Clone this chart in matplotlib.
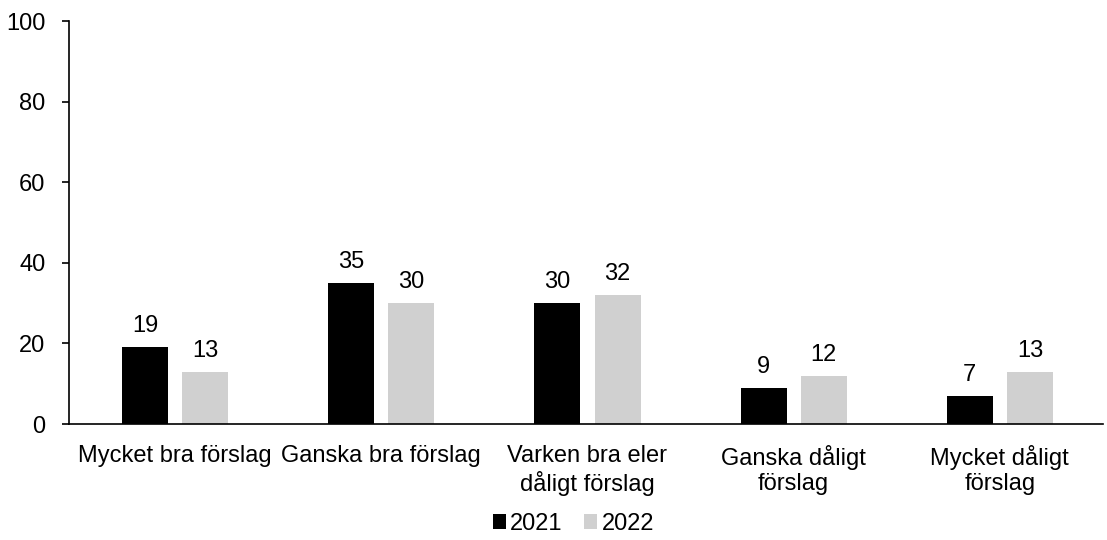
import matplotlib
matplotlib.use('Agg')
import matplotlib.pyplot as plt
import numpy as np

plt.rcParams['font.family'] = ['Liberation Sans', 'DejaVu Sans']

categories = ['Mycket bra förslag', 'Ganska bra förslag', 'Varken bra eler\ndåligt förslag',
              'Ganska dåligt\nförslag', 'Mycket dåligt\nförslag']
values_2021 = [19, 35, 30, 9, 7]
values_2022 = [13, 30, 32, 12, 13]
series_names = ['2021', '2022']
colors = ['#000000', '#d0d0d0']

fs = 17

fig = plt.figure(figsize=(11.07, 5.4), dpi=100)
ax = fig.add_axes([0.0623, 0.2148, 0.934, 0.7463])

x = np.arange(len(categories))
w = 0.223
off = 0.146
for vals, name, c, d in zip([values_2021, values_2022], series_names, colors, [-off, off]):
    bars = ax.bar(x + d, vals, w, color=c, label=name)
    for b, v in zip(bars, vals):
        ax.text(b.get_x() + b.get_width() / 2, v + 2.5, str(v), ha='center', va='bottom', fontsize=fs)

ax.set_xlim(-0.515, len(categories) - 0.5)
ax.set_ylim(0, 100)
ax.set_yticks(range(0, 101, 20))
ax.set_xticks(x)
ax.set_xticklabels(categories, fontsize=fs, linespacing=1.2)
ax.tick_params(axis='x', length=0, pad=15)
ax.tick_params(axis='y', labelsize=fs, length=5, width=1.2, pad=12)
for s in ['top', 'right']:
    ax.spines[s].set_visible(False)
for s in ['left', 'bottom']:
    ax.spines[s].set_linewidth(1.2)

fig.legend(loc='lower center', bbox_to_anchor=(0.518, -0.03), ncol=2, frameon=False,
           fontsize=fs, handlelength=0.55, handleheight=0.55, handletextpad=0.2, columnspacing=0.9)

fig.savefig('out.png', dpi=100)
